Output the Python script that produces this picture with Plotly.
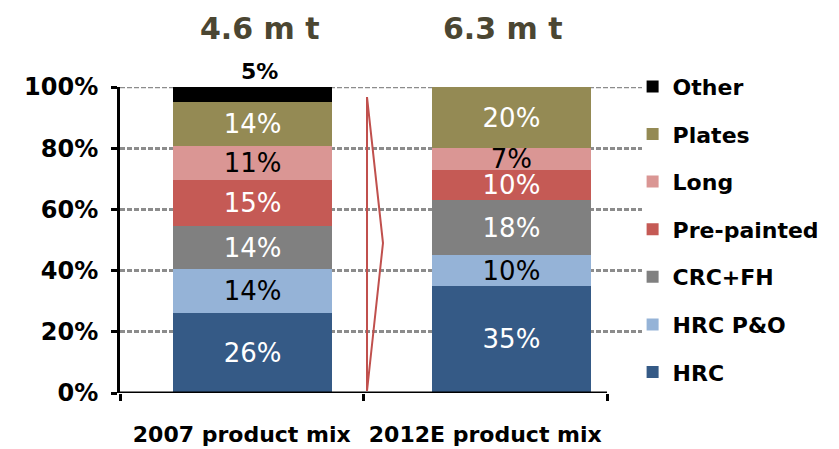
import plotly.graph_objects as go

# Product mix shares (percent of total tonnage)
categories = ["2007 product mix", "2012E product mix"]
products = ["HRC", "HRC P&O", "CRC+FH", "Pre-painted", "Long", "Plates", "Other"]
hrc = [26, 35]
hrc_po = [14, 10]
crc_fh = [14, 18]
pre_painted = [15, 10]
long_products = [11, 7]
plates = [14, 20]
other = [5, 0]
volumes = ["4.6 m t", "6.3 m t"]
y_ticks = [0, 20, 40, 60, 80, 100]

series = [hrc, hrc_po, crc_fh, pre_painted, long_products, plates, other]
colors = ["#355a86", "#95b3d7", "#808080", "#c55a55", "#da9694", "#948a54", "#000000"]
label_colors = ["white", "black", "white", "white", "black", "white", "black"]

FONT = "DejaVu Sans"
bar_offset = [-0.282, -0.219]
bar_width = 0.653

fig = go.Figure()
n = len(products)
for i, (name, vals, col, tcol) in enumerate(zip(products, series, colors, label_colors)):
    is_top = name == "Other"
    fig.add_trace(go.Bar(
        x=categories,
        y=vals,
        name=name,
        legendgroup=name,
        legendrank=n - i,
        marker=dict(color=col, line=dict(width=0)),
        offset=bar_offset,
        width=bar_width,
        text=None if is_top else [f"{v}%" for v in vals],
        textposition="inside",
        insidetextanchor="middle",
        textangle=0,
        constraintext="none",
        cliponaxis=False,
        textfont=dict(family=FONT, size=26, color=tcol),
        hoverinfo="skip",
    ))

# The thin top segment carries its label just above the bar
for cat, v in zip(categories, other):
    if v > 0:
        fig.add_annotation(
            x=cat, xref="x", y=100, yref="y", yanchor="bottom", xshift=18, yshift=1,
            text=f"{v}%", showarrow=False,
            font=dict(family=FONT, size=22, color="black", weight="bold"),
        )

# Volume headers above each bar
for cat, vol in zip(categories, volumes):
    fig.add_annotation(
        x=cat, xref="x", y=1, yref="paper", yanchor="middle", yshift=59, xshift=18,
        text=vol, showarrow=False,
        font=dict(family=FONT, size=30, color="#4b4632", weight="bold"),
    )

# Dashed gridline along the 100% level
fig.add_shape(
    type="line", xref="paper", yref="y", x0=0, x1=1, y0=100, y1=100,
    line=dict(color="#8c8c8c", width=2.5, dash="5px,2px"), layer="below",
)
# Growth chevron between the two bars
fig.add_shape(
    type="path", xref="paper", yref="paper",
    path="M 0.4732 0.967 L 0.5038 0.490 L 0.4732 0.0065 Z",
    line=dict(color="#c0504d", width=2),
)
# Category axis baseline (stops at the last category boundary)
fig.add_shape(
    type="line", xref="x", yref="y", x0=-0.5, x1=1.5, y0=0, y1=0,
    line=dict(color="black", width=3),
)

fig.update_layout(
    width=839, height=449,
    margin=dict(l=120, r=197, t=87, b=56),
    plot_bgcolor="white", paper_bgcolor="white",
    barmode="stack", barnorm="percent",
    showlegend=True,
    legend=dict(
        x=0.982, xanchor="left", y=1.07, yanchor="top",
        traceorder="grouped", tracegroupgap=16, maxheight=449,
        font=dict(family=FONT, size=22, color="black", weight="bold"),
        itemclick=False, bgcolor="rgba(0,0,0,0)",
    ),
    xaxis=dict(
        range=[-0.5, 1.6437], automargin=False, tickangle=0,
        tickson="boundaries", ticks="outside", ticklen=7, tickwidth=3,
        tickcolor="black", showgrid=False, showline=False, zeroline=False,
        ticklabelstandoff=26,
        tickfont=dict(family=FONT, size=22, color="black", weight="bold"),
    ),
    yaxis=dict(
        range=[0, 100], tickmode="array", tickvals=y_ticks, automargin=False,
        ticktext=[f"{t}%" for t in y_ticks],
        ticks="outside", ticklen=6, tickwidth=3, tickcolor="black",
        showline=True, linecolor="black", linewidth=3,
        showgrid=True, gridcolor="#8c8c8c", gridwidth=2.5, griddash="5px,2px",
        zeroline=False, ticklabelstandoff=8,
        tickfont=dict(family=FONT, size=24, color="black", weight="bold"),
    ),
)

fig.write_html("out.html")
